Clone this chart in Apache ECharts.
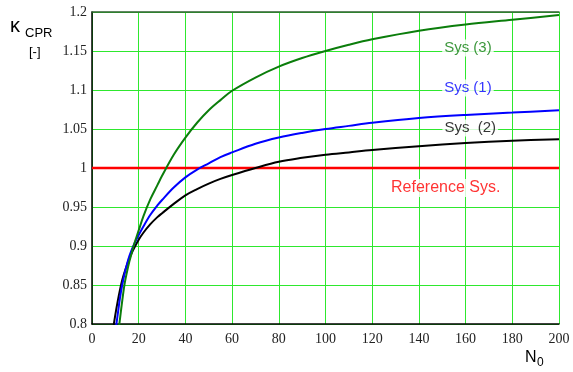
<!DOCTYPE html>
<html>
<head>
<meta charset="utf-8">
<script src="https://cdn.jsdelivr.net/npm/echarts@6/dist/echarts.min.js"></script>
<style>html,body{margin:0;padding:0;background:#fff}#c{width:573px;height:372px}</style>
</head>
<body>
<div id="c"></div>
<script>
// ---- data ----
const xTicks = [0, 20, 40, 60, 80, 100, 120, 140, 160, 180, 200];
const yTicks = [0.8, 0.85, 0.9, 0.95, 1, 1.05, 1.1, 1.15, 1.2];

const nSys3 = [11, 12, 13, 14, 15, 16, 17, 18, 20, 22, 25, 28, 30, 35, 40, 45, 50, 55, 60, 70, 80, 90, 100, 110, 120, 140, 160, 180, 200];
const kSys3 = [0.783, 0.807, 0.831, 0.852, 0.867, 0.880, 0.891, 0.902, 0.920, 0.938, 0.960, 0.978, 0.990, 1.017, 1.039, 1.058, 1.074, 1.087, 1.099, 1.116, 1.130, 1.141, 1.150, 1.158, 1.165, 1.176, 1.184, 1.190, 1.196];

const nSys1 = [10, 11, 12, 13, 14, 15, 16, 17, 18, 20, 22, 25, 28, 30, 35, 40, 45, 50, 55, 60, 70, 80, 90, 100, 110, 120, 140, 160, 180, 200];
const kSys1 = [0.790, 0.812, 0.834, 0.851, 0.865, 0.877, 0.887, 0.895, 0.902, 0.914, 0.925, 0.940, 0.952, 0.959, 0.975, 0.988, 0.998, 1.006, 1.014, 1.020, 1.031, 1.039, 1.045, 1.050, 1.054, 1.058, 1.064, 1.068, 1.071, 1.074];

const nSys2 = [9, 10, 11, 12, 13, 14, 15, 16, 17, 18, 20, 22, 25, 28, 30, 35, 40, 45, 50, 55, 60, 70, 80, 90, 100, 110, 120, 140, 160, 180, 200];
const kSys2 = [0.793, 0.812, 0.829, 0.844, 0.857, 0.867, 0.876, 0.884, 0.891, 0.897, 0.908, 0.917, 0.928, 0.937, 0.942, 0.954, 0.965, 0.973, 0.980, 0.986, 0.991, 1.000, 1.008, 1.013, 1.017, 1.020, 1.023, 1.028, 1.032, 1.035, 1.037];

const nRef = [0, 200];
const kRef = [1, 1];

const labelTexts = ['Sys (3)', 'Sys (1)', 'Sys  (2)', 'Reference Sys.'];
const labelN = [161, 161, 162, 151.5];
const labelK = [1.1538, 1.1026, 1.0513, 0.9744];
const labelColors = ['#0b7d0b', '#0000ff', '#000000', '#ff0000'];
const labelSizes = [15, 15, 15, 16];

// ---- chart ----
const zip = (a, b) => a.map((v, i) => [v, b[i]]);
const chart = echarts.init(document.getElementById('c'), null, {renderer: 'canvas'});
const gridGreen = '#2ee82e';
const serif = 'Liberation Serif';
const sans = 'Liberation Sans';
const curve = (n, k, color) => ({
  type: 'line', data: zip(n, k), symbol: 'none', smooth: 0.35, clip: true,
  lineStyle: {color: color, width: 2}, z: 4
});

chart.setOption({
  animation: false,
  backgroundColor: '#fff',
  grid: {left: 92, right: 14, top: 12, bottom: 48, containLabel: false, outerBoundsMode: 'none'},
  xAxis: [{
    type: 'value', min: xTicks[0], max: xTicks[xTicks.length - 1], interval: xTicks[1] - xTicks[0],
    axisLine: {show: true, onZero: false, lineStyle: {color: '#000', width: 1.5}},
    axisTick: {show: false},
    axisLabel: {color: '#222', fontFamily: serif, fontSize: 14, margin: 8},
    splitLine: {show: true, lineStyle: {color: gridGreen, width: 1}}
  }, {
    type: 'value', position: 'top', min: xTicks[0], max: xTicks[xTicks.length - 1],
    axisLine: {show: true, onZero: false, lineStyle: {color: '#2f5f2f', width: 1.5}},
    axisTick: {show: false}, axisLabel: {show: false}, splitLine: {show: false}
  }],
  yAxis: {
    type: 'value', min: yTicks[0], max: yTicks[yTicks.length - 1], interval: 0.05,
    axisLine: {show: true, onZero: false, lineStyle: {color: '#000', width: 1.5}},
    axisTick: {show: false},
    axisLabel: {color: '#222', fontFamily: serif, fontSize: 14, margin: 5,
      formatter: v => { const m = yTicks.find(t => Math.abs(t - v) < 1e-6); return m === undefined ? '' : String(m); }},
    splitLine: {show: true, lineStyle: {color: gridGreen, width: 1}}
  },
  graphic: [
    {type: 'text', left: 10, top: 16, style: {text: 'κ', font: '20px "Liberation Sans"', fill: '#000'}},
    {type: 'text', left: 25, top: 27, style: {text: 'CPR', font: '13px "Liberation Sans"', fill: '#000'}},
    {type: 'text', left: 29, top: 46, style: {text: '[-]', font: '13px "Liberation Sans"', fill: '#000'}},
    {type: 'text', left: 525, top: 350, style: {text: 'N', font: '16px "Liberation Sans"', fill: '#000'}},
    {type: 'text', left: 537, top: 357, style: {text: '0', font: '12px "Liberation Sans"', fill: '#000'}}
  ],
  series: [
    {type: 'line', data: zip(nRef, kRef), symbol: 'none', lineStyle: {color: '#ff0000', width: 2.5}, z: 3},
    curve(nSys2, kSys2, '#000000'),
    curve(nSys1, kSys1, '#0000ff'),
    curve(nSys3, kSys3, '#0b7d0b'),
    {type: 'scatter', symbolSize: 0, z: 6,
      data: labelTexts.map((t, i) => ({
        value: [labelN[i], labelK[i]],
        label: {show: true, position: 'inside', formatter: t, color: labelColors[i],
          fontFamily: sans, fontSize: labelSizes[i], backgroundColor: '#fff', padding: [1, 2]}
      }))}
  ]
});
</script>
</body>
</html>
